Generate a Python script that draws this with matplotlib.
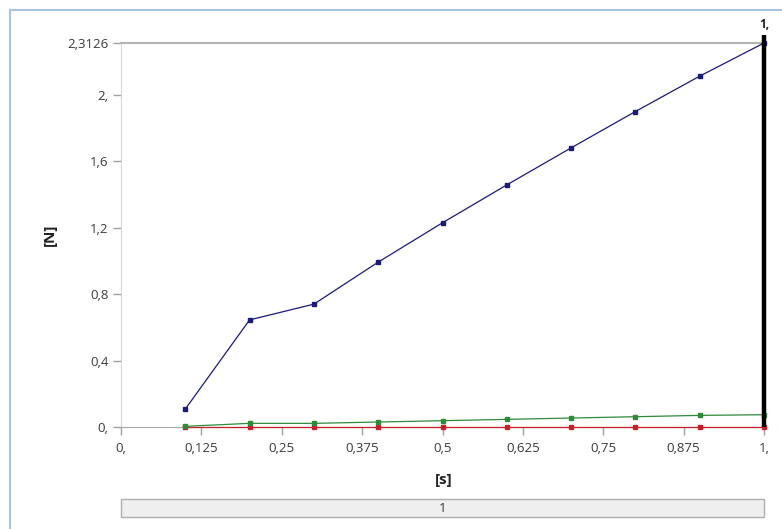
import matplotlib
matplotlib.use("Agg")
import matplotlib.pyplot as plt
from matplotlib.patches import Rectangle

plt.rcParams['font.family'] = ['Open Sans', 'DejaVu Sans']

time_s = [0.1, 0.2, 0.3, 0.4, 0.5, 0.6, 0.7, 0.8, 0.9, 1.0]
force_blue = [0.108, 0.645, 0.74, 0.993, 1.23, 1.458, 1.681, 1.90, 2.113, 2.3126]
force_green = [0.004, 0.022, 0.022, 0.030, 0.038, 0.046, 0.054, 0.062, 0.070, 0.074]
force_red = [0.0, 0.0, 0.0, 0.0, 0.0, 0.0, 0.0, 0.0, 0.0, 0.0]

x_ticks = [0, 0.125, 0.25, 0.375, 0.5, 0.625, 0.75, 0.875, 1.0]
x_labels = ["0,", "0,125", "0,25", "0,375", "0,5", "0,625", "0,75", "0,875", "1,"]
y_ticks = [0, 0.4, 0.8, 1.2, 1.6, 2.0, 2.3126]
y_labels = ["0,", "0,4", "0,8", "1,2", "1,6", "2,", "2,3126"]
y_max = 2.3126
marker_time = 1.0
marker_label = "1,"
step_label = "1"

W, H = 782, 529
fig = plt.figure(figsize=(W / 100, H / 100), dpi=100)
fig.patch.set_facecolor("white")

# outer light-blue frame (top and left edges)
fig.add_artist(plt.Line2D([10 / W, 1], [1 - 10 / H, 1 - 10 / H], color="#a9c3e0", lw=1.5,
                          transform=fig.transFigure))
fig.add_artist(plt.Line2D([10 / W, 10 / W], [0, 1 - 10 / H], color="#a9c3e0", lw=1.5,
                          transform=fig.transFigure))

left, right = 121 / W, 764 / W
bottom, top = (H - 427) / H, (H - 43) / H
ax = fig.add_axes([left, bottom, right - left, top - bottom])
ax.set_xlim(0, 1)
ax.set_ylim(0, y_max)

ax.spines["right"].set_visible(False)
ax.spines["left"].set_color("#d6d6d6")
ax.spines["bottom"].set_color("#a8a8a8")
ax.spines["top"].set_color("#b4b4b4")
ax.spines["top"].set_linewidth(1.5)

ax.set_xticks(x_ticks)
ax.set_xticklabels(x_labels)
ax.set_yticks(y_ticks)
ax.set_yticklabels(y_labels)
ax.tick_params(axis="both", colors="#a0a0a0", labelcolor="#3a3a3a", labelsize=9.5,
               length=6, width=1)
ax.tick_params(axis="x", pad=5)
ax.tick_params(axis="y", pad=3)

ax.plot(time_s, force_red, color="#c8202a", lw=0.9, marker="s", ms=2.5, clip_on=False, zorder=3)
ax.plot(time_s, force_green, color="#2e8b3a", lw=0.9, marker="s", ms=2.5, clip_on=False, zorder=3)
ax.plot(time_s, force_blue, color="#1a1a7a", lw=0.9, marker="s", ms=2.5, clip_on=False, zorder=4)

# current time marker
ax.plot([marker_time, marker_time], [0, y_max * 1.02], color="black", lw=3.2,
        clip_on=False, zorder=5, solid_capstyle="butt")
ax.annotate(marker_label, xy=(marker_time, y_max), xytext=(0, 9), textcoords="offset points",
            ha="center", va="bottom", fontsize=8.5, fontweight="bold", color="#222222",
            annotation_clip=False)

ax.set_ylabel("[N]", fontsize=11, fontweight="bold", color="#222222")
ax.yaxis.set_label_coords(-(121 - 50) / (764 - 121), 0.5)
ax.set_xlabel("[s]", fontsize=11, fontweight="bold", color="#222222")
ax.xaxis.set_label_coords((444 - 121) / (764 - 121), -(480 - 427) / (427 - 43))
ax.xaxis.label.set_va("center")
ax.yaxis.label.set_va("center")

# step bar at bottom
bar = Rectangle((left, 1 - 517 / H), right - left, 18 / H, transform=fig.transFigure,
                facecolor="#efefef", edgecolor="#adadad", lw=1)
fig.add_artist(bar)
fig.text((left + right) / 2, 1 - 508 / H, step_label, ha="center", va="center",
         fontsize=9.5, color="#333333")

fig.savefig("out.png", dpi=100)
